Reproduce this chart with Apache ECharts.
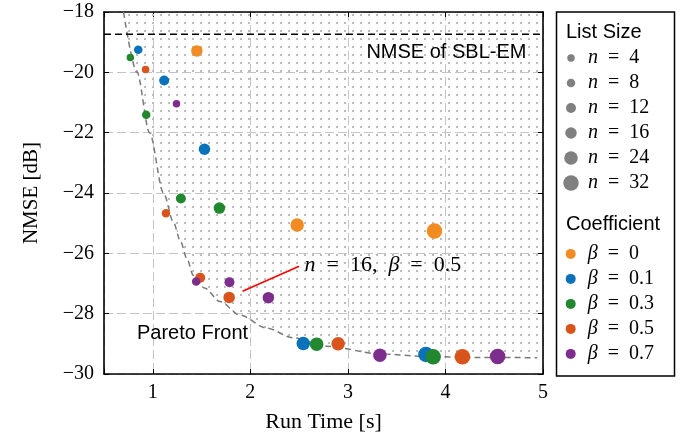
<!DOCTYPE html>
<html><head><meta charset="utf-8">
<script src="https://cdn.jsdelivr.net/npm/echarts@6/dist/echarts.min.js"></script>
<style>html,body{margin:0;padding:0;background:#fff}#c{width:686px;height:438px}</style>
</head><body><div id="c"></div>
<script>
// ---- data ----
const listSizes = [4, 8, 12, 16, 24, 32];
const listSizeMarker = [7.5, 8.5, 10, 11.5, 13.5, 15.5];
const betaLabels = ['0', '0.1', '0.3', '0.5', '0.7'];
const betaColors = ['#F28C22', '#0A72BA', '#21882F', '#D9541A', '#7D2E8D'];

const beta0Time = [1.452, 2.48, 3.888];
const beta0Nmse = [-19.29, -25.06, -25.26];
const beta0N = [16, 24, 32];

const beta01Time = [0.851, 1.117, 1.53, 2.543, 3.80];
const beta01Nmse = [-19.25, -20.27, -22.55, -28.99, -29.35];
const beta01N = [8, 12, 16, 24, 32];

const beta03Time = [0.77, 0.933, 1.288, 1.683, 2.68, 3.874];
const beta03Nmse = [-19.51, -21.41, -24.18, -24.5, -29.01, -29.43];
const beta03N = [4, 8, 12, 16, 24, 32];

const beta05Time = [0.926, 1.135, 1.486, 1.783, 2.90, 4.174];
const beta05Nmse = [-19.91, -24.67, -26.81, -27.46, -29.0, -29.43];
const beta05N = [4, 8, 12, 16, 24, 32];

const beta07Time = [1.243, 1.445, 1.786, 2.185, 3.328, 4.535];
const beta07Nmse = [-21.04, -26.93, -26.96, -27.47, -29.38, -29.42];
const beta07N = [4, 8, 12, 16, 24, 32];

const paretoTime = [0.70, 0.838, 0.967, 1.11, 1.212, 1.281, 1.35, 1.416, 1.53, 1.69, 1.895, 2.168, 2.44, 2.78, 3.328, 3.8, 4.3, 4.94];
const paretoNmse = [-18.0, -20.0, -22.0, -24.0, -24.97, -25.57, -26.18, -26.73, -27.15, -27.6, -28.05, -28.48, -28.8, -29.08, -29.33, -29.42, -29.45, -29.46];
const regionEndTime = 5;

const sblNmse = -18.74;
const xRange = [0.5, 5];
const yRange = [-30, -18];
const yStep = 2;

const annotArrowFrom = [2.50, -26.43];
const annotArrowTo = [1.92, -27.26];
const annotTextAt = [2.555, -26.40];
const sblTextAt = [4.83, -19.33];
const paretoTextAt = [0.838, -28.65];

// ---- helpers ----
const SERIF = "'Liberation Serif', 'Times New Roman', serif";
const SANS = "'Liberation Sans', Arial, Helvetica, sans-serif";
const sizeOf = n => listSizeMarker[listSizes.indexOf(n)];
const zip = (t, y, n) => t.map((v, i) => [v, y[i], n[i]]);
const betaData = [
  zip(beta0Time, beta0Nmse, beta0N),
  zip(beta01Time, beta01Nmse, beta01N),
  zip(beta03Time, beta03Nmse, beta03N),
  zip(beta05Time, beta05Nmse, beta05N),
  zip(beta07Time, beta07Nmse, beta07N)
];
const betaNames = betaLabels.map(b => 'β = ' + b);

const pc = document.createElement('canvas');
pc.width = 8; pc.height = 8;
const pg = pc.getContext('2d');
pg.fillStyle = '#bdbdbd';
pg.fillRect(0, 6, 2, 2);

const paretoData = paretoTime.map((t, i) => [t, paretoNmse[i]]);
const areaData = paretoData.concat([[regionEndTime, paretoNmse[paretoNmse.length - 1]]]);

const richMath = {
  i: { fontFamily: SERIF, fontStyle: 'italic', fontSize: 20, lineHeight: 25, color: '#000' },
  t: { fontFamily: SERIF, fontSize: 20, lineHeight: 25, color: '#000' }
};
const richLegend = {
  i: { fontFamily: SERIF, fontStyle: 'italic', fontSize: 20, color: '#000', padding: [0, 0, 0, 7] },
  t: { fontFamily: SERIF, fontSize: 20, color: '#000' }
};
const mathLabel = (sym, rest) => '{i|' + sym + '}{t|\u2002=\u2002' + rest + '}';

const chart = echarts.init(document.getElementById('c'), null, { renderer: 'canvas' });

const series = [];
series.push({
  name: 'region', type: 'line', data: areaData, smooth: 0.3, smoothMonotone: 'x',
  showSymbol: false, silent: true, z: 1,
  lineStyle: { opacity: 0, width: 0 },
  areaStyle: { origin: 'end', color: { image: pc, repeat: 'repeat' }, opacity: 1 }
});
series.push({
  name: 'pareto', type: 'line', data: paretoData, smooth: 0.3, smoothMonotone: 'x',
  showSymbol: false, silent: true, z: 2,
  lineStyle: { color: '#7a7a7a', width: 1.5, type: [6, 4] },
  markPoint: {
    silent: true, symbol: 'circle', symbolSize: 0,
    data: [{ coord: paretoTextAt, label: { show: true, position: 'right', distance: 0, formatter: 'Pareto Front', fontFamily: SANS, fontSize: 20, color: '#000' } }]
  }
});
series.push({
  name: 'sbl', type: 'line', data: [[xRange[0], sblNmse], [xRange[1], sblNmse]],
  showSymbol: false, silent: true, z: 2,
  lineStyle: { color: '#000', width: 1.5, type: [7, 4] },
  markPoint: {
    silent: true, symbol: 'circle', symbolSize: 0,
    data: [{ coord: sblTextAt, label: { show: true, position: 'left', distance: 0, formatter: 'NMSE of SBL-EM', fontFamily: SANS, fontSize: 20, color: '#000' } }]
  }
});
betaData.forEach((d, k) => {
  const s = {
    name: betaNames[k], type: 'scatter', data: d, z: 3 + k,
    symbol: 'circle',
    symbolSize: v => sizeOf(v[2]),
    itemStyle: { color: betaColors[k], opacity: 1 }
  };
  if (k === 3) {
    s.markLine = {
      silent: true, symbol: ['none', 'arrow'], symbolSize: [0, 11],
      lineStyle: { color: '#ff0000', width: 1.6, type: 'solid' },
      label: { show: false },
      data: [[{ coord: annotArrowFrom }, { coord: annotArrowTo }]]
    };
    s.markPoint = {
      silent: true, symbol: 'circle', symbolSize: 0,
      data: [{ coord: annotTextAt, label: {
        show: true, position: 'right', distance: 0,
        formatter: '{i|n}{t|\u2002=\u200216,\u2002}{i|β}{t|\u2002=\u20020.5}',
        rich: { i: { fontFamily: SERIF, fontStyle: 'italic', fontSize: 22, color: '#000' }, t: { fontFamily: SERIF, fontSize: 22, color: '#000' } }
      } }]
    };
  }
  series.push(s);
});

// size legend graphics
const legendGraphics = [
  { type: 'rect', shape: { x: 556.5, y: 12, width: 118, height: 364 }, style: { fill: '#fff', stroke: '#000', lineWidth: 1.5 }, z: 0 },
  { type: 'text', x: 566, y: 32, style: { text: 'List Size', font: '20px ' + SANS, fill: '#000', verticalAlign: 'middle' }, z: 10 },
  { type: 'text', x: 566, y: 224, style: { text: 'Coefficient', font: '20px ' + SANS, fill: '#000', verticalAlign: 'middle' }, z: 10 }
];
listSizes.forEach((n, i) => {
  const cy = 58 + i * 25;
  legendGraphics.push({ type: 'circle', shape: { cx: 571, cy: cy, r: listSizeMarker[i] / 2 }, style: { fill: '#808080' }, z: 10 });
  legendGraphics.push({ type: 'text', x: 588, y: cy, z: 10,
    style: { text: mathLabel('n', String(n)), rich: richMath, verticalAlign: 'middle', fill: '#000' } });
});

const axisCommonX = { type: 'value', min: xRange[0], max: xRange[1] };
const axisCommonY = { type: 'value', min: yRange[0], max: yRange[1], interval: yStep };

chart.setOption({
  animation: false,
  backgroundColor: '#fff',
  grid: { left: 104, right: 143, top: 12, bottom: 62, show: false },
  xAxis: [
    Object.assign({}, axisCommonX, {
      position: 'bottom',
      name: 'Run Time [s]', nameLocation: 'middle', nameGap: 37,
      nameTextStyle: { fontFamily: SERIF, fontSize: 22, color: '#000' },
      axisLine: { show: true, onZero: false, lineStyle: { color: '#000', width: 1.6 } },
      axisTick: { show: true, inside: true, length: 5, lineStyle: { color: '#000', width: 1 } },
      axisLabel: { fontFamily: SERIF, fontSize: 20, color: '#000', margin: 9,
        formatter: v => Number.isInteger(v) ? String(v) : '' },
      splitLine: { show: true, lineStyle: { color: '#c4c4c4', width: 1, type: [9, 4] } }
    }),
    Object.assign({}, axisCommonX, {
      position: 'top',
      axisLine: { show: true, onZero: false, lineStyle: { color: '#000', width: 1.6 } },
      axisTick: { show: true, inside: true, length: 5, lineStyle: { color: '#000', width: 1 } },
      axisLabel: { show: false }, splitLine: { show: false }
    })
  ],
  yAxis: [
    Object.assign({}, axisCommonY, {
      position: 'left',
      name: 'NMSE [dB]', nameLocation: 'middle', nameGap: 62, nameRotate: 90,
      nameTextStyle: { fontFamily: SERIF, fontSize: 21, color: '#000' },
      axisLine: { show: true, onZero: false, lineStyle: { color: '#000', width: 1.6 } },
      axisTick: { show: true, inside: true, length: 5, lineStyle: { color: '#000', width: 1 } },
      axisLabel: { fontFamily: SERIF, fontSize: 20, color: '#000', margin: 10, padding: [3, 0, 0, 0],
        formatter: v => (v < 0 ? '\u2212' + Math.abs(v) : String(v)) },
      splitLine: { show: true, lineStyle: { color: '#c4c4c4', width: 1, type: [9, 4] } }
    }),
    Object.assign({}, axisCommonY, {
      position: 'right',
      axisLine: { show: true, onZero: false, lineStyle: { color: '#000', width: 1.6 } },
      axisTick: { show: true, inside: true, length: 5, lineStyle: { color: '#000', width: 1 } },
      axisLabel: { show: false }, splitLine: { show: false }
    })
  ],
  legend: {
    data: betaNames, orient: 'vertical', left: 565.7, top: 243.9, padding: 0,
    itemWidth: 10, itemHeight: 10, itemGap: 5, icon: 'circle',
    selectedMode: false, z: 20,
    formatter: name => '{i|β}{t|\u2002=\u2002' + name.split('= ')[1] + '}',
    textStyle: { rich: richLegend }
  },
  graphic: legendGraphics,
  series: series
});
</script>
</body></html>
